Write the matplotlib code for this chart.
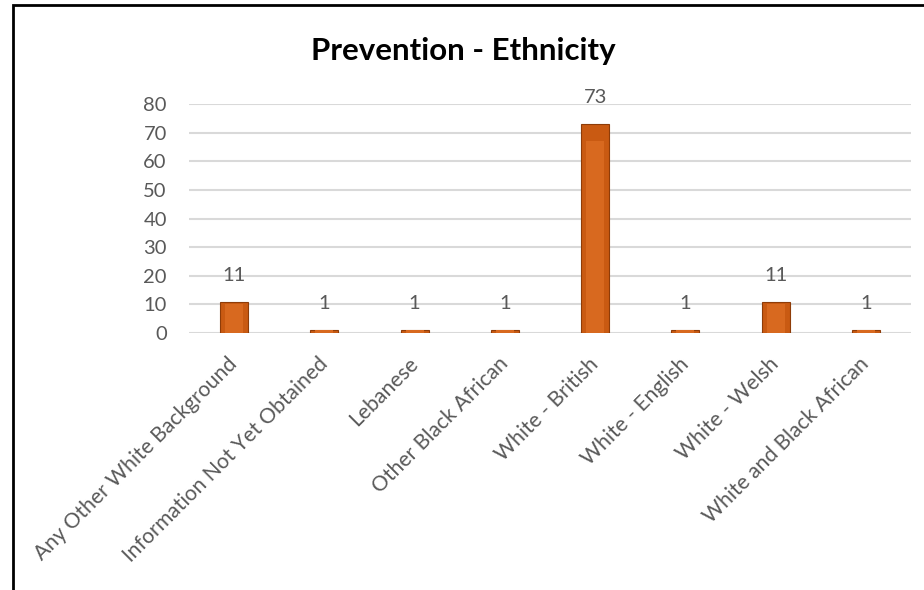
import matplotlib as mpl
mpl.use('Agg')
import matplotlib.pyplot as plt
from matplotlib.patches import Rectangle

# data
categories = ['Any Other White Background', 'Information Not Yet Obtained', 'Lebanese',
              'Other Black African', 'White - British', 'White - English',
              'White - Welsh', 'White and Black African']
counts = [11, 1, 1, 1, 73, 1, 11, 1]
yticks = [0, 10, 20, 30, 40, 50, 60, 70, 80]
title = 'Prevention - Ethnicity'

plt.rcParams['font.family'] = ['Lato', 'DejaVu Sans']
grey = '#595959'

fig = plt.figure(figsize=(9.24, 5.9), dpi=100)
ax = fig.add_axes([189 / 924, 1 - 333 / 590, (911 - 189) / 924, (333 - 104) / 590])

x = range(len(categories))
ax.bar(x, counts, width=0.31, color='#C95A12', edgecolor='#8E3C08', linewidth=0.8, zorder=3)
# lighter inner face to hint at the bevelled Excel bars
ax.bar(x, [c * 0.92 for c in counts], width=0.2, color='#D8691F', linewidth=0, zorder=3.5)

for xi, v in zip(x, counts):
    ax.annotate(str(v), (xi, v), xytext=(0, 19), textcoords='offset points',
                ha='center', va='center', fontsize=14.5, color=grey, zorder=4)

ax.set_xlim(-0.5, len(categories) - 0.5)
ax.set_ylim(0, 80)
ax.set_yticks(yticks)
ax.yaxis.grid(True, color='#D9D9D9', linewidth=1.5, zorder=0)
ax.tick_params(axis='y', length=0, pad=16, labelsize=14.5, labelcolor=grey)
ax.tick_params(axis='x', length=0, pad=20)
for s in ax.spines.values():
    s.set_visible(False)

ax.set_xticks(list(x))
ax.set_xticklabels(categories, rotation=45, ha='right', va='center',
                   rotation_mode='anchor', fontsize=15.2, color=grey)

fig.text(463 / 924, 1 - 51 / 590, title, ha='center', va='center',
         fontsize=22.5, fontweight='bold', color='black')

# chart frame (left and top edges visible in the screenshot)
fig.add_artist(Rectangle((13 / 924, -0.1), 1.0, 1.1 - 5 / 590, transform=fig.transFigure,
                         fill=False, edgecolor='black', linewidth=2, clip_on=False))

fig.savefig('out.png', dpi=100)
